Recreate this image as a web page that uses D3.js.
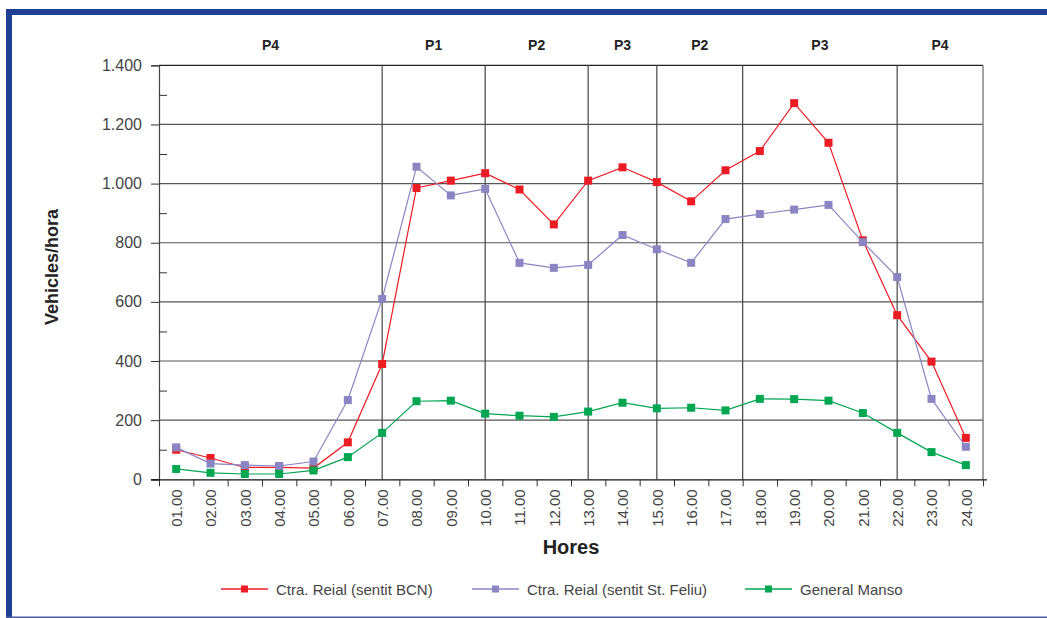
<!DOCTYPE html>
<html>
<head>
<meta charset="utf-8">
<script src="https://cdn.jsdelivr.net/npm/d3@7"></script>
<style>
  html, body { margin: 0; padding: 0; background: #fff; }
  svg { display: block; font-family: "Liberation Sans", Arial, sans-serif; }
</style>
</head>
<body>
<svg id="chart" width="1047" height="618"></svg>
<script>
// Hourly traffic counts (vehicles per hour)
const hours = ["01.00","02.00","03.00","04.00","05.00","06.00","07.00","08.00","09.00","10.00","11.00","12.00",
               "13.00","14.00","15.00","16.00","17.00","18.00","19.00","20.00","21.00","22.00","23.00","24.00"];
const reialBCN   = [100, 72, 40, 40, 38, 125, 390, 985, 1010, 1035, 980, 862, 1010, 1055, 1005, 940, 1045, 1110, 1272, 1138, 808, 555, 398, 140];
const reialFeliu = [108, 53, 48, 45, 60, 268, 610, 1057, 960, 982, 732, 715, 725, 826, 778, 732, 880, 897, 912, 928, 802, 684, 272, 110];
const generalManso = [35, 22, 18, 18, 30, 75, 157, 264, 266, 222, 215, 211, 229, 259, 240, 242, 233, 272, 271, 266, 224, 157, 92, 48];

// Period bands: boundaries in hour units and their labels
const periodBreaks = [7, 10, 13, 15, 17.5, 22];
const periodLabels = ["P4", "P1", "P2", "P3", "P2", "P3", "P4"];

const yTicks = [0, 200, 400, 600, 800, 1000, 1200, 1400];
const yMinorTicks = [100, 300, 500, 700, 900, 1100, 1300];

const seriesNames = ["Ctra. Reial (sentit BCN)", "Ctra. Reial (sentit St. Feliu)", "General Manso"];
const seriesColors = ["#ec1c24", "#8a86c4", "#00a651"];

const svg = d3.select("#chart");
const plotLeft = 159, plotRight = 983, plotTop = 65.3, plotBottom = 479.3;

const x = d3.scaleLinear().domain([0.5, 24.5]).range([plotLeft, plotRight]);
const y = d3.scaleLinear().domain([0, 1400]).range([plotBottom, plotTop]);

const locale = d3.formatLocale({ decimal: ",", thousands: ".", grouping: [3], currency: ["", ""] });
const fmt = locale.format(",");

// Frame
svg.append("rect").attr("x", 6).attr("y", 9).attr("width", 6).attr("height", 609).attr("fill", "#1f3f95");
svg.append("rect").attr("x", 6).attr("y", 9).attr("width", 1041).attr("height", 6).attr("fill", "#1f3f95");
svg.append("rect").attr("x", 6).attr("y", 616.5).attr("width", 1041).attr("height", 1.5).attr("fill", "#4a5c9e");

// Horizontal gridlines
svg.append("g").selectAll("line").data(yTicks.filter(d => d > 0)).join("line")
  .attr("x1", plotLeft).attr("x2", plotRight)
  .attr("y1", d => y(d)).attr("y2", d => y(d))
  .attr("stroke", d => d === 1400 ? "#222" : "#555").attr("stroke-width", 1.2);

// Period separators
svg.append("g").selectAll("line").data(periodBreaks).join("line")
  .attr("x1", d => x(d)).attr("x2", d => x(d))
  .attr("y1", plotTop).attr("y2", plotBottom)
  .attr("stroke", "#444").attr("stroke-width", 1.2);

// Right edge
svg.append("line").attr("x1", plotRight).attr("x2", plotRight).attr("y1", plotTop).attr("y2", plotBottom)
  .attr("stroke", "#666").attr("stroke-width", 1.2);

// Period labels
const edges = [0.5, ...periodBreaks, 24.5];
svg.append("g").selectAll("text").data(periodLabels).join("text")
  .attr("x", (d, i) => x((edges[i] + edges[i + 1]) / 2))
  .attr("y", 50)
  .attr("text-anchor", "middle")
  .attr("font-size", 14).attr("font-weight", "bold").attr("fill", "#222")
  .text(d => d);

// Y axis
const yAxis = svg.append("g").attr("transform", `translate(${plotLeft},0)`)
  .call(d3.axisLeft(y).tickValues(yTicks).tickSize(8).tickPadding(9).tickFormat(fmt));
yAxis.select(".domain").attr("stroke", "#444").attr("stroke-width", 1.2);
yAxis.selectAll(".tick line").attr("stroke", "#333");
yAxis.selectAll("text").attr("font-size", 16).attr("fill", "#444")
  .attr("font-family", "Liberation Sans, Arial, sans-serif");

const yMinor = svg.append("g").attr("transform", `translate(${plotLeft},0)`)
  .call(d3.axisRight(y).tickValues(yMinorTicks).tickSize(8).tickFormat(""));
yMinor.select(".domain").remove();
yMinor.selectAll(".tick line").attr("stroke", "#333");

// X axis: tick marks on hour boundaries
const bounds = d3.range(0.5, 25, 1);
const xAxis = svg.append("g").attr("transform", `translate(0,${plotBottom})`)
  .call(d3.axisBottom(x).tickValues(bounds).tickSize(7).tickFormat(""));
xAxis.select(".domain").attr("stroke", "#111").attr("stroke-width", 1.3)
  .attr("d", `M${plotLeft - 8},0.5H${plotRight + 4}`);
xAxis.selectAll(".tick line").attr("stroke", "#333");

// X axis: hour labels at category centres
const xLabels = svg.append("g").attr("transform", `translate(0,${plotBottom})`)
  .call(d3.axisBottom(x).tickValues(d3.range(1, 25)).tickSize(0).tickFormat(d => hours[d - 1]));
xLabels.select(".domain").remove();
xLabels.selectAll("text")
  .attr("font-size", 15).attr("fill", "#444")
  .attr("font-family", "Liberation Sans, Arial, sans-serif")
  .attr("text-anchor", "end")
  .attr("transform", "translate(0,10) rotate(-90)")
  .attr("x", 0).attr("y", 0).attr("dy", "0.35em");

// Axis titles
svg.append("text").attr("x", (plotLeft + plotRight) / 2).attr("y", 554)
  .attr("text-anchor", "middle").attr("font-size", 20).attr("font-weight", "bold").attr("fill", "#222")
  .text("Hores");
svg.append("text").attr("transform", "translate(58,267) rotate(-90)")
  .attr("text-anchor", "middle").attr("font-size", 18).attr("font-weight", "bold").attr("fill", "#222")
  .text("Vehicles/hora");

// Series
const allSeries = [reialBCN, reialFeliu, generalManso];
const line = d3.line().x((d, i) => x(i + 1)).y(d => y(d));
const ms = 8;
allSeries.forEach((vals, k) => {
  const g = svg.append("g");
  g.append("path").attr("d", line(vals)).attr("fill", "none")
    .attr("stroke", seriesColors[k]).attr("stroke-width", 1.2);
  g.selectAll("rect").data(vals).join("rect")
    .attr("x", (d, i) => x(i + 1) - ms / 2).attr("y", d => y(d) - ms / 2)
    .attr("width", ms).attr("height", ms).attr("fill", seriesColors[k]);
});

// Legend
const legendX = [221, 472, 745];
const legend = svg.append("g").attr("transform", "translate(0,589)");
seriesNames.forEach((name, k) => {
  const g = legend.append("g").attr("transform", `translate(${legendX[k]},0)`);
  g.append("line").attr("x1", 0).attr("x2", 47).attr("y1", 0).attr("y2", 0)
    .attr("stroke", seriesColors[k]).attr("stroke-width", 1.3);
  g.append("rect").attr("x", 20).attr("y", -3.5).attr("width", 7).attr("height", 7).attr("fill", seriesColors[k]);
  g.append("text").attr("x", 55).attr("y", 5.5).attr("font-size", 15).attr("fill", "#444").text(name);
});
</script>
</body>
</html>
